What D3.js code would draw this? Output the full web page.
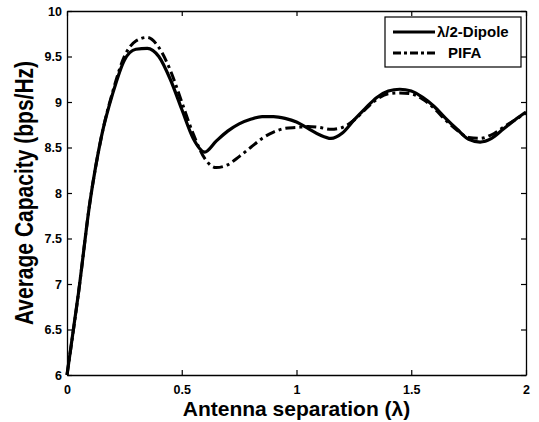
<!DOCTYPE html>
<html>
<head>
<meta charset="utf-8">
<script src="https://cdn.jsdelivr.net/npm/d3@7.9.0/dist/d3.min.js"></script>
<style>
  body { margin: 0; background: #fff; }
  svg { font-family: 'Liberation Sans', Arial, sans-serif; font-weight: bold; }
</style>
</head>
<body>
<div id="chart"></div>
<script>
// antenna separation in wavelengths
const separation = [0, 0.05, 0.1, 0.15, 0.2, 0.25, 0.3, 0.35, 0.4, 0.45, 0.5, 0.55, 0.6, 0.65, 0.7, 0.75, 0.8, 0.85, 0.9, 0.95, 1.0,
    1.05, 1.1, 1.15, 1.2, 1.25, 1.3, 1.35, 1.4, 1.45, 1.5, 1.55, 1.6, 1.65, 1.7, 1.75, 1.8, 1.85, 1.9, 1.95, 2.0];
const dipole = [6.0, 6.9, 7.9, 8.62, 9.1, 9.46, 9.58, 9.59, 9.5, 9.25, 8.92, 8.6, 8.45, 8.57, 8.68, 8.76, 8.81, 8.84, 8.84, 8.82, 8.78,
    8.71, 8.64, 8.6, 8.66, 8.8, 8.93, 9.05, 9.12, 9.14, 9.12, 9.05, 8.95, 8.82, 8.7, 8.59, 8.56, 8.6, 8.7, 8.8, 8.89];
const pifa = [6.0, 6.9, 7.9, 8.62, 9.12, 9.5, 9.67, 9.71, 9.6, 9.35, 9.0, 8.65, 8.38, 8.28, 8.31, 8.4, 8.5, 8.6, 8.67, 8.71, 8.72,
    8.73, 8.72, 8.7, 8.72, 8.8, 8.92, 9.03, 9.09, 9.1, 9.09, 9.03, 8.93, 8.8, 8.69, 8.61, 8.6, 8.64, 8.72, 8.8, 8.88];
const xTicks = [0, 0.5, 1, 1.5, 2];
const yTicks = [6, 6.5, 7, 7.5, 8, 8.5, 9, 9.5, 10];
const seriesNames = ['\u03BB/2-Dipole', 'PIFA'];

const width = 539;
const height = 422;
const margin = { top: 11, right: 13, bottom: 47, left: 67 };

const svg = d3.select('#chart')
    .append('svg')
    .attr('width', width)
    .attr('height', height);

const xScale = d3.scaleLinear().domain([0, 2]).range([margin.left, width - margin.right]);
const yScale = d3.scaleLinear().domain([6, 10]).range([height - margin.bottom, margin.top]);

// axes, MATLAB style: ticks inside, box all round
const tick = 5;
svg.append('g')
    .attr('transform', `translate(0, ${height - margin.bottom})`)
    .call(d3.axisBottom(xScale).tickValues(xTicks).tickSizeInner(-tick).tickSizeOuter(0).tickPadding(10)
        .tickFormat(d => d3.format('')(d)));
svg.append('g')
    .attr('transform', `translate(0, ${margin.top})`)
    .call(d3.axisTop(xScale).tickValues(xTicks).tickSizeInner(-tick).tickSizeOuter(0).tickFormat(''));
svg.append('g')
    .attr('transform', `translate(${margin.left}, 0)`)
    .call(d3.axisLeft(yScale).tickValues(yTicks).tickSizeInner(-tick).tickSizeOuter(0).tickPadding(5)
        .tickFormat(d => d3.format('')(d)));
svg.append('g')
    .attr('transform', `translate(${width - margin.right}, 0)`)
    .call(d3.axisRight(yScale).tickValues(yTicks).tickSizeInner(-tick).tickSizeOuter(0).tickFormat(''));

svg.selectAll('.domain').attr('stroke', '#000').attr('stroke-width', 1.3);
svg.selectAll('.tick line').attr('stroke', '#000').attr('stroke-width', 1.2);
svg.selectAll('.tick text')
    .attr('fill', '#000')
    .style('font-size', '12.5px')
    .style('font-weight', 'bold')
    .style('font-family', "'Liberation Sans', Arial, sans-serif");

// lines
const line = (ys) => d3.line()
    .x((d, i) => xScale(separation[i]))
    .y(d => yScale(d))
    .curve(d3.curveMonotoneX)(ys);

const dash = '10,4,3,4';

svg.append('path')
    .attr('d', line(pifa))
    .attr('fill', 'none')
    .attr('stroke', '#000')
    .attr('stroke-width', 3)
    .attr('stroke-dasharray', dash);

svg.append('path')
    .attr('d', line(dipole))
    .attr('fill', 'none')
    .attr('stroke', '#000')
    .attr('stroke-width', 3.2);

// legend
const lg = svg.append('g').attr('transform', 'translate(385, 17)');
lg.append('rect')
    .attr('width', 136).attr('height', 50)
    .attr('fill', '#fff').attr('stroke', '#000').attr('stroke-width', 1.2);
seriesNames.forEach((name, i) => {
    const y = 15 + i * 21;
    lg.append('line')
        .attr('x1', 8).attr('x2', 50).attr('y1', y).attr('y2', y)
        .attr('stroke', '#000').attr('stroke-width', 3)
        .attr('stroke-dasharray', i === 1 ? '8,3,3,3' : null);
    lg.append('text')
        .attr('x', i === 0 ? 52 : 63).attr('y', y + 5)
        .style('font-size', '15px')
        .text(name);
});

// axis labels
svg.append('text')
    .attr('x', xScale(1))
    .attr('y', 416)
    .attr('text-anchor', 'middle')
    .style('font-size', '21px')
    .text('Antenna separation (\u03BB)');

svg.append('text')
    .attr('transform', `translate(33, ${yScale(8)}) rotate(-90) scale(1, 1.25)`)
    .attr('text-anchor', 'middle')
    .style('font-size', '21px')
    .text('Average Capacity (bps/Hz)');
</script>
</body>
</html>
